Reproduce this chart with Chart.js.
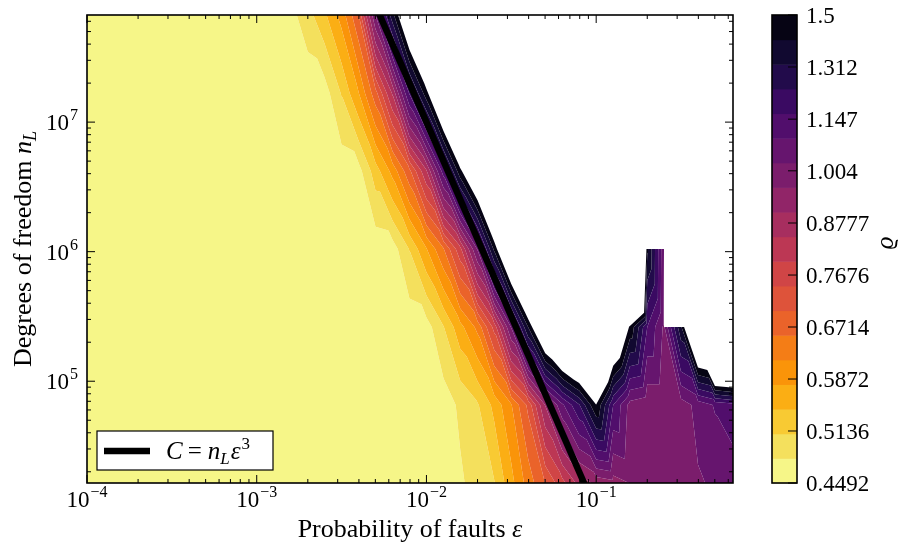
<!DOCTYPE html>
<html>
<head>
<meta charset="utf-8">
<script src="https://cdn.jsdelivr.net/npm/chart.js@4.4.1/dist/chart.umd.min.js"></script>
<style>
  html, body { margin: 0; padding: 0; background: #fff; }
  #wrap { width: 900px; height: 544px; }
</style>
</head>
<body>
<div id="wrap"><canvas id="c" width="900" height="544"></canvas></div>
<script>
// Fault probabilities of the simulation grid (columns)
const epsGrid = [0.0001, 0.00126, 0.00158, 0.002, 0.00251, 0.00316, 0.00398, 0.00501, 0.00631, 0.00794,
                 0.01, 0.0126, 0.0158, 0.02, 0.0251, 0.0316, 0.0398, 0.0501, 0.0631, 0.0794,
                 0.1, 0.126, 0.158, 0.2, 0.251, 0.316, 0.398, 0.501, 0.64];
// Degrees of freedom of the simulation grid (rows)
const nGrid = [16384, 65536, 262144, 1048576, 4194304, 16777216, 67108864];

// rho for each row (null = no run)
const rhoN14 = [0.458, 0.458, 0.458, 0.458, 0.458, 0.458, 0.458, 0.458, 0.458, 0.458,
                0.458, 0.4624, 0.4742, 0.4912, 0.5084, 0.5669, 0.6339, 0.7013, 0.7766, 0.8662,
                0.9176, 0.9407, 0.9633, 0.9771, 0.991, 1.0048, 1.0187, 1.0337, 1.0519];
const rhoN16 = [0.458, 0.458, 0.458, 0.458, 0.458, 0.458, 0.458, 0.458, 0.458, 0.458,
                0.4595, 0.463, 0.4843, 0.5065, 0.553, 0.6142, 0.7114, 0.9052, 1.0774, 1.2316,
                1.4954, 1.1637, 1.0, 0.9746, 0.9746, 0.9935, 1.0452, 1.0994, 1.1351];
const rhoN18 = [0.458, 0.458, 0.458, 0.458, 0.458, 0.458, 0.458, 0.458, 0.458, 0.4595,
                0.4649, 0.5084, 0.5662, 0.6274, 0.7624, 1.0317, 1.4124, 1.8, 2.05, 2.18,
                2.3, 1.83, 1.4816, 1.1637, 1.0124, 1.3905, 1.99, 2.74, 2.81];
const rhoN20 = [0.458, 0.458, 0.458, 0.458, 0.458, 0.458, 0.458, 0.4595, 0.4636, 0.5117,
                0.5769, 0.6542, 0.7786, 1.0317, 1.429, 1.88, 2.3, 2.7, 3.0, 3.0,
                3.0, 3.0, 3.0, 1.4262, 1.025, null, null, null, null];
const rhoN22 = [0.458, 0.458, 0.458, 0.458, 0.458, 0.461, 0.4671, 0.5267, 0.5907, 0.6888,
                0.841, 1.1258, 1.4687, 1.78, 2.2, 2.6, 3.0, 3.0, 3.0, 3.0,
                3.0, 3.0, 3.0, null, null, null, null, null, null];
const rhoN24 = [0.458, 0.458, 0.458, 0.458, 0.4639, 0.5127, 0.5772, 0.6823, 0.8545, 1.1713,
                1.4631, 1.855, 2.3, 2.7, 3.0, 3.0, 3.0, 3.0, 3.0, 3.0,
                3.0, 3.0, 3.0, null, null, null, null, null, null];
const rhoN26 = [0.458, 0.458, 0.468, 0.4971, 0.5367, 0.593, 0.6974, 1.025, 1.3732, 1.763,
                2.2, 2.6, 3.0, 3.0, 3.0, 3.0, 3.0, 3.0, 3.0, 3.0,
                3.0, 3.0, 3.0, null, null, null, null, null, null];
const rhoRows = [rhoN14, rhoN16, rhoN18, rhoN20, rhoN22, rhoN24, rhoN26];

// Contour levels and colorbar ticks
const rhoLevels = [0.4492, 0.4786, 0.5100, 0.5434, 0.5790, 0.6169, 0.6574, 0.7004, 0.7463, 0.7952,
                   0.8473, 0.9028, 0.9620, 1.0250, 1.0922, 1.1637, 1.2400, 1.3212, 1.4078, 1.5000];
const colorbarTicks = [1.5, 1.312, 1.147, 1.004, 0.8777, 0.7676, 0.6714, 0.5872, 0.5136, 0.4492];
const colorbarLabels = ['1.5', '1.312', '1.147', '1.004', '0.8777', '0.7676', '0.6714', '0.5872', '0.5136', '0.4492'];

// Reference line C = n_L * eps^3 (C = 10)
const lineEps = [0.005, 0.1];
const lineN = [80000000, 10000];

// Axis tick labels
const xMajor = [1e-4, 1e-3, 1e-2, 1e-1];
const xMajorExp = ['\u22124', '\u22123', '\u22122', '\u22121'];
const yMajor = [1e5, 1e6, 1e7];
const yMajorExp = ['5', '6', '7'];

// inferno_r colours, one per band (lowest band first)
const bandColors = ['#f6f688', '#f4e05d', '#f8ca33', '#fbae14', '#fa9409', '#f47d16', '#ea632a',
                    '#de533a', '#d04546', '#bc3754', '#a72e5f', '#912568', '#7b1d6c', '#66156e',
                    '#510e6c', '#3a0a62', '#220b4b', '#110930', '#060414'];

const SERIF = '"Liberation Serif", "DejaVu Serif", serif';

// Clip a polygon of [px, py, value] vertices to value >= level (above) or <= level
function clipPoly(poly, level, above) {
  const out = [];
  for (let m = 0; m < poly.length; m++) {
    const P = poly[m], Q = poly[(m + 1) % poly.length];
    const pin = above ? P[2] >= level : P[2] <= level;
    const qin = above ? Q[2] >= level : Q[2] <= level;
    if (pin) out.push(P);
    if (pin !== qin) {
      const t = (level - P[2]) / (Q[2] - P[2]);
      out.push([P[0] + t * (Q[0] - P[0]), P[1] + t * (Q[1] - P[1]), level]);
    }
  }
  return out;
}

function addTriangle(tri, paths) {
  for (let k = 0; k < bandColors.length; k++) {
    let poly = clipPoly(tri, rhoLevels[k], true);
    if (poly.length < 3) continue;
    poly = clipPoly(poly, rhoLevels[k + 1], false);
    if (poly.length < 3) continue;
    const p = paths[k];
    p.moveTo(poly[0][0], poly[0][1]);
    for (let m = 1; m < poly.length; m++) p.lineTo(poly[m][0], poly[m][1]);
    p.closePath();
  }
}

// Filled contour bands, built cell by cell on the chart scales
const contourPlugin = {
  id: 'contourFill',
  beforeDatasetsDraw(chart) {
    const { ctx, chartArea: a, scales: { x, y } } = chart;
    const px = epsGrid.map(e => x.getPixelForValue(e));
    const py = nGrid.map(n => y.getPixelForValue(n));
    const paths = bandColors.map(() => new Path2D());
    for (let i = 0; i < nGrid.length - 1; i++) {
      for (let j = 0; j < epsGrid.length - 1; j++) {
        const v00 = rhoRows[i][j], v01 = rhoRows[i][j + 1];
        const v10 = rhoRows[i + 1][j], v11 = rhoRows[i + 1][j + 1];
        if (v00 === null || v01 === null || v10 === null || v11 === null) continue;
        const TL = [px[j], py[i + 1], v10], TR = [px[j + 1], py[i + 1], v11];
        const BL = [px[j], py[i], v00], BR = [px[j + 1], py[i], v01];
        addTriangle([TL, TR, BR], paths);
        addTriangle([TL, BR, BL], paths);
      }
    }
    ctx.save();
    ctx.beginPath();
    ctx.rect(a.left, a.top, a.right - a.left, a.bottom - a.top);
    ctx.clip();
    paths.forEach((p, k) => { ctx.fillStyle = bandColors[k]; ctx.fill(p); });
    ctx.restore();
  }
};

// Draw a run of text pieces with their own fonts and vertical offsets
function richWidth(ctx, parts) {
  let w = 0;
  for (const p of parts) { ctx.font = p.f; w += ctx.measureText(p.t).width + (p.gap || 0); }
  return w;
}
function drawRich(ctx, parts, x, y) {
  let cx = x;
  for (const p of parts) {
    ctx.font = p.f;
    ctx.fillText(p.t, cx, y + (p.dy || 0));
    cx += ctx.measureText(p.t).width + (p.gap || 0);
  }
}

const decorPlugin = {
  id: 'axesDecor',
  afterDatasetsDraw(chart) {
    const { ctx, chartArea: a, scales: { x, y } } = chart;
    ctx.save();
    ctx.strokeStyle = '#000';
    ctx.fillStyle = '#000';
    ctx.lineWidth = 1;
    const seg = (x0, y0, x1, y1) => { ctx.beginPath(); ctx.moveTo(x0, y0); ctx.lineTo(x1, y1); ctx.stroke(); };

    // x ticks (inside, bottom and top)
    for (let d = -4; d <= -1; d++) {
      for (let m = 1; m <= 9; m++) {
        const v = m * Math.pow(10, d);
        if (v < x.min * 0.999 || v > x.max) continue;
        const p = x.getPixelForValue(v);
        const len = m === 1 ? 8 : 4;
        seg(p, a.bottom, p, a.bottom - len);
        seg(p, a.top, p, a.top + len);
      }
    }
    // y ticks (inside, left and right)
    for (let d = 4; d <= 7; d++) {
      for (let m = 1; m <= 9; m++) {
        const v = m * Math.pow(10, d);
        if (v < y.min || v > y.max) continue;
        const p = y.getPixelForValue(v);
        const len = m === 1 ? 8 : 4;
        seg(a.left, p, a.left + len, p);
        seg(a.right, p, a.right - len, p);
      }
    }
    // frame
    ctx.lineWidth = 1.6;
    ctx.strokeRect(a.left, a.top, a.right - a.left, a.bottom - a.top);

    // tick labels
    ctx.textBaseline = 'alphabetic';
    ctx.textAlign = 'left';
    const base = '23px ' + SERIF, sup = '16px ' + SERIF;
    xMajor.forEach((v, i) => {
      const parts = [{ t: '10', f: base, gap: 1 }, { t: xMajorExp[i], f: sup, dy: -10 }];
      const w = richWidth(ctx, parts);
      drawRich(ctx, parts, x.getPixelForValue(v) - w / 2, 507);
    });
    yMajor.forEach((v, i) => {
      const parts = [{ t: '10', f: base, gap: 1 }, { t: yMajorExp[i], f: sup, dy: -10 }];
      const w = richWidth(ctx, parts);
      drawRich(ctx, parts, 78 - w, y.getPixelForValue(v) + 8);
    });

    // axis titles
    const tf = '26px ' + SERIF, ti = 'italic 26px ' + SERIF, tis = 'italic 18px ' + SERIF;
    const xt = [{ t: 'Probability of faults ', f: tf }, { t: '\u03b5', f: ti }];
    const xw = richWidth(ctx, xt);
    drawRich(ctx, xt, (a.left + a.right) / 2 - xw / 2, 537);

    const yt = [{ t: 'Degrees of freedom ', f: tf }, { t: 'n', f: ti }, { t: 'L', f: tis, dy: 5 }];
    const yw = richWidth(ctx, yt);
    ctx.save();
    ctx.translate(31, (a.top + a.bottom) / 2);
    ctx.rotate(-Math.PI / 2);
    drawRich(ctx, yt, -yw / 2, 0);
    ctx.restore();

    // legend
    ctx.fillStyle = '#fff';
    ctx.fillRect(97, 431, 176, 39);
    ctx.lineWidth = 1.2;
    ctx.strokeRect(97, 431, 176, 39);
    ctx.lineWidth = 6.5;
    seg(104, 451, 150, 451);
    ctx.fillStyle = '#000';
    const lf = '25px ' + SERIF, li = 'italic 25px ' + SERIF, ls = '17px ' + SERIF, lsi = 'italic 17px ' + SERIF;
    drawRich(ctx, [
      { t: 'C', f: li, gap: 5 }, { t: '=', f: lf, gap: 6 }, { t: 'n', f: li }, { t: 'L', f: lsi, dy: 5, gap: 1 },
      { t: '\u03b5', f: li, gap: 1 }, { t: '3', f: ls, dy: -10 }
    ], 166, 459);
    ctx.restore();
  },
  afterDraw(chart) {
    // colorbar
    const { ctx, chartArea: a } = chart;
    const left = 772, width = 25, top = a.top, bottom = a.bottom;
    const nb = bandColors.length;
    const h = (bottom - top) / nb;
    ctx.save();
    for (let k = 0; k < nb; k++) {
      ctx.fillStyle = bandColors[k];
      ctx.fillRect(left, bottom - (k + 1) * h, width, h + 0.5);
    }
    const lo = rhoLevels[0], hi = rhoLevels[rhoLevels.length - 1];
    const posOf = v => bottom - Math.log(v / lo) / Math.log(hi / lo) * (bottom - top);
    ctx.strokeStyle = '#000';
    ctx.lineWidth = 1;
    colorbarTicks.forEach(v => {
      const p = posOf(v);
      ctx.beginPath(); ctx.moveTo(left + width, p); ctx.lineTo(left + width - 9, p); ctx.stroke();
    });
    ctx.lineWidth = 1.6;
    ctx.strokeRect(left, top, width, bottom - top);
    ctx.fillStyle = '#000';
    ctx.font = '23px ' + SERIF;
    ctx.textAlign = 'left';
    ctx.textBaseline = 'alphabetic';
    colorbarTicks.forEach((v, i) => ctx.fillText(colorbarLabels[i], 806, posOf(v) + 8));
    ctx.save();
    ctx.translate(893, (top + bottom) / 2 - 6);
    ctx.rotate(-Math.PI / 2);
    ctx.font = 'italic 25px ' + SERIF;
    ctx.textAlign = 'center';
    ctx.fillText('\u03f1', 0, 0);
    ctx.restore();
    ctx.restore();
  }
};

new Chart(document.getElementById('c'), {
  type: 'line',
  data: {
    datasets: [{
      label: 'C = n_L \u03b5^3',
      data: lineEps.map((e, i) => ({ x: e, y: lineN[i] })),
      borderColor: '#000',
      borderWidth: 6.5,
      borderCapStyle: 'butt',
      pointRadius: 0,
      fill: false,
      tension: 0,
      clip: 0
    }]
  },
  options: {
    responsive: false,
    animation: false,
    devicePixelRatio: 1,
    layout: { padding: { left: 87, right: 167, top: 15, bottom: 61 } },
    scales: {
      x: { type: 'logarithmic', min: 1e-4, max: 0.64, display: false },
      y: { type: 'logarithmic', min: 16384, max: 67108864, display: false }
    },
    plugins: { legend: { display: false }, tooltip: { enabled: false } }
  },
  plugins: [contourPlugin, decorPlugin]
});
</script>
</body>
</html>
